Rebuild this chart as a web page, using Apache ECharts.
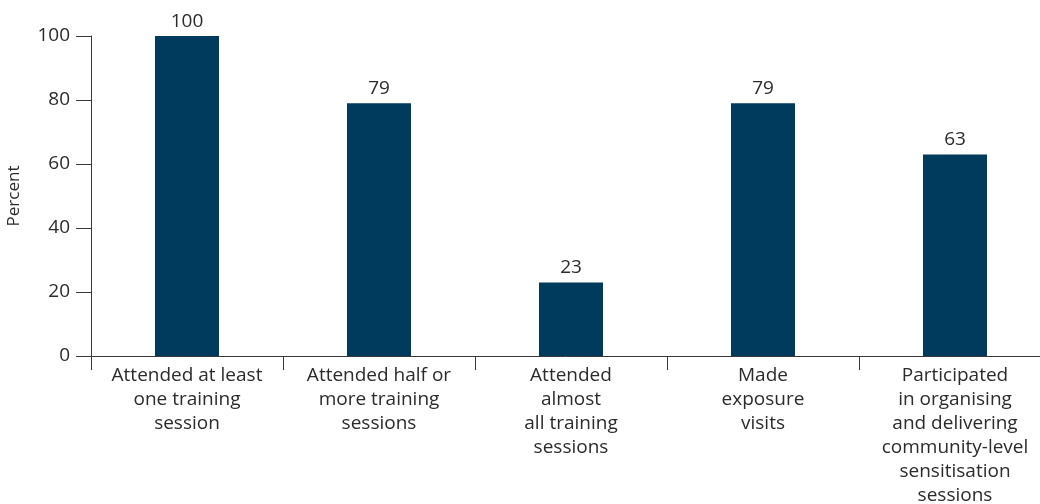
<!DOCTYPE html>
<html>
<head>
<meta charset="utf-8">
<script src="https://cdn.jsdelivr.net/npm/echarts@6/dist/echarts.min.js"></script>
<style>
  html, body { margin: 0; padding: 0; background: #fff; }
  #chart { width: 1040px; height: 504px; }
</style>
</head>
<body>
<div id="chart"></div>
<script>
// Participation in training activities (percent)
const categories = [
  'Attended at least\none training\nsession',
  'Attended half or\nmore training\nsessions',
  'Attended\nalmost\nall training\nsessions',
  'Made\nexposure\nvisits',
  'Participated\nin organising\nand delivering\ncommunity-level\nsensitisation\nsessions'
];
const percentValues = [100, 79, 23, 79, 63];
const yTicks = [0, 20, 40, 60, 80, 100];

const textColor = '#2b2b2b';
const axisColor = '#3a3a3a';
const fontFamily = '"Open Sans", "Liberation Sans", sans-serif';

const chart = echarts.init(document.getElementById('chart'));
chart.setOption({
  animation: false,
  grid: {
    left: 91, top: 36, width: 960, height: 320,
    containLabel: false,
    outerBoundsMode: 'none'
  },
  xAxis: {
    type: 'category',
    data: categories,
    axisLine: { show: true, lineStyle: { color: axisColor, width: 1 } },
    axisTick: { show: true, length: 14, alignWithLabel: false, lineStyle: { color: axisColor } },
    axisLabel: {
      interval: 0,
      color: textColor,
      fontFamily: fontFamily,
      fontSize: 19,
      lineHeight: 24,
      margin: 8,
      align: 'center'
    }
  },
  yAxis: {
    type: 'value',
    min: yTicks[0],
    max: yTicks[yTicks.length - 1],
    interval: 20,
    name: 'Percent',
    nameLocation: 'middle',
    nameGap: 68,
    nameRotate: 90,
    nameTextStyle: { color: textColor, fontFamily: fontFamily, fontSize: 17 },
    axisLine: { show: true, lineStyle: { color: axisColor, width: 1 } },
    axisTick: { show: true, length: 15, lineStyle: { color: axisColor } },
    splitLine: { show: false },
    axisLabel: {
      color: textColor,
      fontFamily: fontFamily,
      fontSize: 19,
      margin: 21
    }
  },
  series: [{
    type: 'bar',
    data: percentValues,
    barWidth: 64,
    itemStyle: { color: '#003a5d' },
    label: {
      show: true,
      position: 'top',
      distance: 5,
      color: textColor,
      fontFamily: fontFamily,
      fontSize: 19
    }
  }]
});
</script>
</body>
</html>
